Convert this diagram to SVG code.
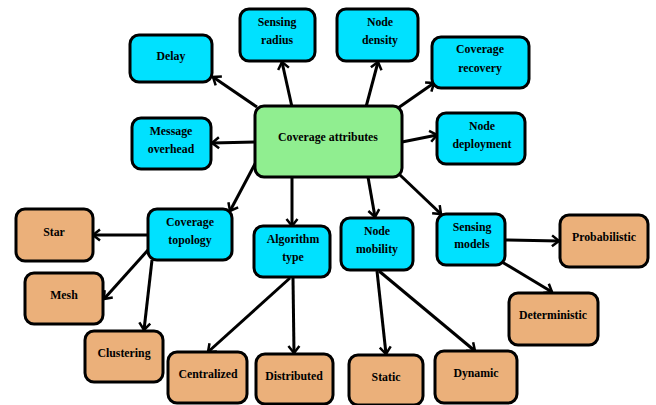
<svg xmlns="http://www.w3.org/2000/svg" width="656" height="405" viewBox="0 0 656 405">
<style>
.b{stroke:#000;stroke-width:3}
.c{fill:#00E1FF}
.g{fill:#90EE90}
.o{fill:#EBB07A}
text{font-family:"Liberation Serif","Times New Roman",serif;font-weight:bold;font-size:11.8px;fill:#000;text-anchor:middle;dominant-baseline:central}
.e line{stroke:#000;stroke-width:3;marker-end:url(#a)}
</style>
<defs>
<marker id="a" markerUnits="userSpaceOnUse" markerWidth="14" markerHeight="14" viewBox="0 0 14 14" refX="11" refY="7" orient="auto">
<path d="M4,1.5 L11,7 L4,12.5" fill="none" stroke="#000" stroke-width="2.5"/>
</marker>
</defs>
<rect width="656" height="405" fill="#fff"/>
<g class="e" id="connectors">
<line x1="257" y1="107" x2="213" y2="77"/>
<line x1="292" y1="107" x2="282" y2="62"/>
<line x1="366" y1="107" x2="378" y2="62"/>
<line x1="398" y1="108" x2="434" y2="83"/>
<line x1="255" y1="142" x2="212" y2="143"/>
<line x1="402" y1="142" x2="437" y2="135"/>
<line x1="256" y1="162" x2="230" y2="211"/>
<line x1="292" y1="177" x2="292" y2="226"/>
<line x1="368" y1="177" x2="375" y2="217"/>
<line x1="400" y1="175" x2="441" y2="214"/>
<line x1="148" y1="235" x2="93" y2="235"/>
<line x1="148" y1="250" x2="104" y2="299"/>
<line x1="152" y1="260" x2="144" y2="330"/>
<line x1="290" y1="278" x2="208" y2="352"/>
<line x1="293" y1="278" x2="294" y2="353"/>
<line x1="377" y1="271" x2="386" y2="354"/>
<line x1="379" y1="271" x2="475" y2="351"/>
<line x1="505" y1="240" x2="559" y2="241"/>
<line x1="502" y1="262" x2="552" y2="292"/>
</g>
<g id="coverage-attributes"><rect class="b g" x="255" y="106" width="147" height="71" rx="9"/><text x="328" y="137">Coverage attributes</text></g>
<g id="delay"><rect class="b c" x="130" y="35" width="82" height="47" rx="9"/><text x="171" y="56">Delay</text></g>
<g id="sensing-radius"><rect class="b c" x="240" y="9" width="75" height="52" rx="9"/><text x="277" y="22">Sensing</text><text x="277" y="40">radius</text></g>
<g id="node-density"><rect class="b c" x="337" y="9" width="81" height="52" rx="9"/><text x="380" y="22">Node</text><text x="380" y="40">density</text></g>
<g id="coverage-recovery"><rect class="b c" x="432" y="37" width="97" height="51" rx="9"/><text x="480" y="49">Coverage</text><text x="480" y="68">recovery</text></g>
<g id="message-overhead"><rect class="b c" x="132" y="118" width="79" height="51" rx="9"/><text x="171" y="131">Message</text><text x="171" y="149">overhead</text></g>
<g id="node-deployment"><rect class="b c" x="437" y="113" width="88" height="51" rx="9"/><text x="482" y="126">Node</text><text x="482" y="144">deployment</text></g>
<g id="coverage-topology"><rect class="b c" x="148" y="209" width="84" height="51" rx="9"/><text x="190" y="222">Coverage</text><text x="190" y="240">topology</text></g>
<g id="algorithm-type"><rect class="b c" x="254" y="226" width="76" height="51" rx="9"/><text x="293" y="239">Algorithm</text><text x="293" y="257">type</text></g>
<g id="node-mobility"><rect class="b c" x="341" y="218" width="72" height="52" rx="9"/><text x="377" y="231">Node</text><text x="377" y="249">mobility</text></g>
<g id="sensing-models"><rect class="b c" x="437" y="214" width="68" height="51" rx="9"/><text x="472" y="227">Sensing</text><text x="472" y="244">models</text></g>
<g id="star"><rect class="b o" x="16" y="209" width="77" height="52" rx="9"/><text x="54" y="232">Star</text></g>
<g id="mesh"><rect class="b o" x="25" y="273" width="78" height="51" rx="9"/><text x="64" y="295">Mesh</text></g>
<g id="clustering"><rect class="b o" x="85" y="331" width="78" height="51" rx="9"/><text x="124" y="353">Clustering</text></g>
<g id="centralized"><rect class="b o" x="168" y="352" width="79" height="51" rx="9"/><text x="208" y="374">Centralized</text></g>
<g id="distributed"><rect class="b o" x="256" y="354" width="77" height="50" rx="9"/><text x="294" y="376">Distributed</text></g>
<g id="static"><rect class="b o" x="349" y="355" width="74" height="50" rx="9"/><text x="386" y="377">Static</text></g>
<g id="dynamic"><rect class="b o" x="435" y="351" width="82" height="52" rx="9"/><text x="476" y="373">Dynamic</text></g>
<g id="probabilistic"><rect class="b o" x="560" y="215" width="88" height="52" rx="9"/><text x="604" y="237">Probabilistic</text></g>
<g id="deterministic"><rect class="b o" x="509" y="293" width="89" height="52" rx="9"/><text x="553" y="315">Deterministic</text></g>
</svg>
